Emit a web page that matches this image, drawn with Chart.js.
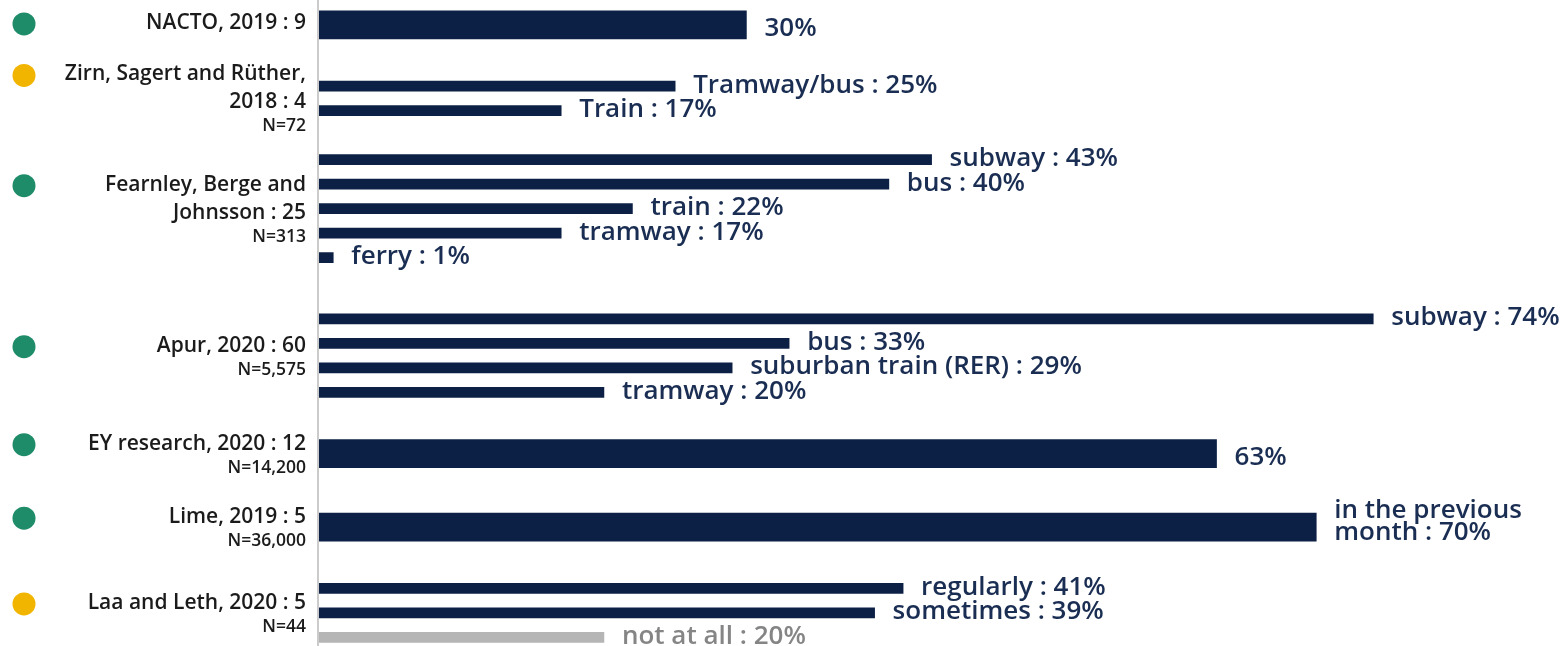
<!DOCTYPE html>
<html>
<head>
<meta charset="utf-8">
<script src="https://cdn.jsdelivr.net/npm/chart.js@4.4.1/dist/chart.umd.min.js"></script>
<style>
  html, body { margin: 0; padding: 0; background: #fff; }
  canvas { display: block; }
</style>
</head>
<body>
<canvas id="usageChart" width="1567" height="646"></canvas>
<script>
// studies shown on the left
const studyNames = [
  ['NACTO, 2019 : 9'],
  ['Zirn, Sagert and Rüther,', '2018 : 4'],
  ['Fearnley, Berge and', 'Johnsson : 25'],
  ['Apur, 2020 : 60'],
  ['EY research, 2020 : 12'],
  ['Lime, 2019 : 5'],
  ['Laa and Leth, 2020 : 5']
];
const sampleSizes = ['', 'N=72', 'N=313', 'N=5,575', 'N=14,200', 'N=36,000', 'N=44'];
const studyRating = ['green', 'yellow', 'green', 'green', 'green', 'green', 'yellow'];

// one entry per bar
const barStudy = [0, 1, 1, 2, 2, 2, 2, 2, 3, 3, 3, 3, 4, 5, 6, 6, 6];
const barModes = ['', 'Tramway/bus', 'Train', 'subway', 'bus', 'train', 'tramway', 'ferry',
  'subway', 'bus', 'suburban train (RER)', 'tramway', '', 'in the previous\nmonth',
  'regularly', 'sometimes', 'not at all'];
const barValues = [30, 25, 17, 43, 40, 22, 17, 1, 74, 33, 29, 20, 63, 70, 41, 39, 20];
const barMuted = [false, false, false, false, false, false, false, false,
  false, false, false, false, false, false, false, false, true];

// layout: which row of the axis each bar sits on
const rowCount = 52;
const rowSlot = [1, 6, 8, 12, 14, 16, 18, 20, 25, 27, 29, 31, 36, 42, 47, 49, 51];

const NAVY = '#0c2045';
const NAVY_TEXT = '#1a2d52';
const GREY = '#b5b5b5';
const GREY_TEXT = '#858585';
const DOT = { green: '#1e8b69', yellow: '#f1b500' };
const FONT = '"Open Sans", "Noto Sans", sans-serif';

const perStudy = studyNames.map((_, s) => barStudy.filter(b => b === s).length);
const rowLabels = Array.from({ length: rowCount }, () => '');
const thickData = Array(rowCount).fill(null);
const thinData = Array(rowCount).fill(null);
const rowBar = Array(rowCount).fill(-1);
barValues.forEach((v, i) => {
  const r = rowSlot[i];
  rowBar[r] = i;
  rowLabels[r] = studyNames[barStudy[i]].join(' ') + (barModes[i] ? ' - ' + barModes[i].replace('\n', ' ') : '');
  if (perStudy[barStudy[i]] === 1) thickData[r] = v; else thinData[r] = v;
});

const barColor = ctx => {
  const b = rowBar[ctx.dataIndex];
  return b >= 0 && barMuted[b] ? GREY : NAVY;
};

const sideLabels = {
  id: 'sideLabels',
  afterDatasetsDraw(chart) {
    const ctx = chart.ctx;
    const metas = [chart.getDatasetMeta(0), chart.getDatasetMeta(1)];
    const barPos = barValues.map((v, i) => {
      const r = rowSlot[i];
      const el = perStudy[barStudy[i]] === 1 ? metas[0].data[r] : metas[1].data[r];
      return { x: el.x, y: el.y, thick: perStudy[barStudy[i]] === 1 };
    });

    ctx.save();
    // axis line runs the full height
    ctx.fillStyle = '#cbcbcb';
    ctx.fillRect(chart.chartArea.left - 2, 0, 2, chart.height);

    // value labels at the end of each bar
    ctx.textBaseline = 'middle';
    ctx.textAlign = 'left';
    ctx.font = '600 26px ' + FONT;
    barValues.forEach((v, i) => {
      const p = barPos[i];
      const lines = (barModes[i] ? barModes[i] + ' : ' + v + '%' : v + '%').split('\n');
      ctx.fillStyle = barMuted[i] ? GREY_TEXT : NAVY_TEXT;
      const w = Math.max(...lines.map(l => ctx.measureText(l).width));
      const x = Math.min(p.x + 18, chart.width - w - 3);
      let y = p.thick ? p.y + 4 : p.y - 1;
      if (lines.length > 1) y = p.y - 17;
      lines.forEach((l, k) => ctx.fillText(l, x, y + k * 22));
    });

    // study names, sample sizes and rating dots
    const right = chart.chartArea.left - 13;
    studyNames.forEach((lines, s) => {
      const ys = barPos.filter((_, i) => barStudy[i] === s).map(p => p.y);
      const yc = (Math.min(...ys) + Math.max(...ys)) / 2;
      const span = (lines.length - 1) * 28 + (sampleSizes[s] ? 24 : 0);
      const top = yc - span / 2 + (sampleSizes[s] ? 2 : -2);
      ctx.textAlign = 'right';
      ctx.fillStyle = '#1b1b1b';
      ctx.font = '600 21px ' + FONT;
      lines.forEach((l, k) => ctx.fillText(l, right, top + k * 28));
      if (sampleSizes[s]) {
        ctx.font = '600 17.5px ' + FONT;
        ctx.fillText(sampleSizes[s], right, top + (lines.length - 1) * 28 + 24);
      }
      ctx.beginPath();
      ctx.arc(24, top + 1, 11.5, 0, Math.PI * 2);
      ctx.fillStyle = DOT[studyRating[s]];
      ctx.fill();
    });
    ctx.restore();
  }
};

new Chart(document.getElementById('usageChart'), {
  type: 'bar',
  data: {
    labels: rowLabels,
    datasets: [
      { data: thickData, backgroundColor: barColor, barThickness: 28, grouped: false },
      { data: thinData, backgroundColor: barColor, barThickness: 10, grouped: false }
    ]
  },
  options: {
    indexAxis: 'y',
    responsive: false,
    animation: false,
    devicePixelRatio: 1,
    layout: { padding: { left: 319, right: 0, top: 6.5, bottom: 2.5 } },
    scales: {
      x: { display: false, min: 0, max: 87.6 },
      y: {
        ticks: { display: false },
        grid: { display: false, drawTicks: false },
        border: { display: false }
      }
    },
    plugins: { legend: { display: false }, tooltip: { enabled: false } }
  },
  plugins: [sideLabels]
});
</script>
</body>
</html>
